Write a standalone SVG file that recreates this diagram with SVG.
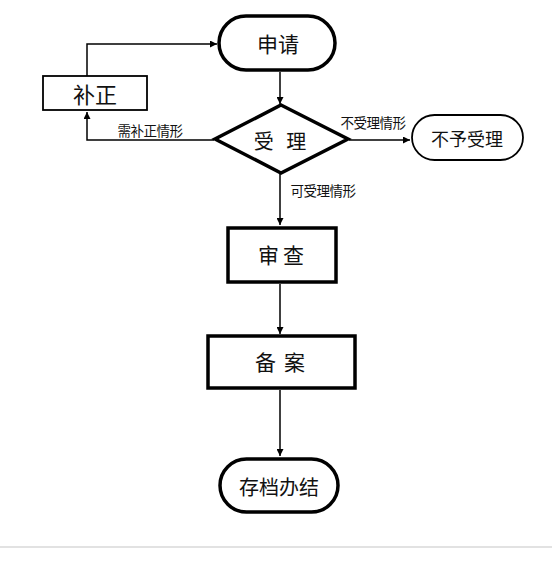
<svg xmlns="http://www.w3.org/2000/svg" width="554" height="564" viewBox="0 0 554 564">
<defs>
<marker id="ah" viewBox="0 0 10 10" refX="10" refY="5" markerWidth="7" markerHeight="7" markerUnits="userSpaceOnUse" orient="auto">
<path d="M0,0 L10,5 L0,10 z" fill="#000"/>
</marker>
</defs>
<style>
.t{font-family:"Noto Sans CJK SC","Noto Sans CJK JP",sans-serif;fill:#111;text-anchor:middle;dominant-baseline:central}
.big{font-size:21px}
.lbl{font-size:13.5px;letter-spacing:-0.5px}
.thick{fill:#fff;stroke:#000;stroke-width:3.5}
.thin{fill:#fff;stroke:#000;stroke-width:1.8}
.c{fill:none;stroke:#000;stroke-width:1.5;marker-end:url(#ah)}
</style>
<rect x="0" y="0" width="554" height="564" fill="#fff"/>
<line x1="0" y1="547" x2="552" y2="547" stroke="#d8d8d8" stroke-width="1.5"/>
<g id="connectors">
<path class="c" d="M87,76 L87,44 L217,44"/>
<path class="c" d="M280,72 L280,104"/>
<path class="c" d="M214,140 L87,140 L87,112"/>
<path class="c" d="M349,140 L410,140"/>
<path class="c" d="M280,174 L280,225"/>
<path class="c" d="M280,284 L280,334"/>
<path class="c" d="M280,390 L280,456"/>
</g>
<g id="shenqing">
<rect class="thick" x="219" y="16" width="116" height="54" rx="27"/>
<text class="t big" x="278" y="43">申请</text>
</g>
<g id="buzheng">
<rect class="thin" x="43" y="76" width="104" height="34"/>
<text class="t big" x="95" y="93" style="font-size:22px">补正</text>
</g>
<g id="shouli">
<polygon class="thick" points="281,105 348,139 281,173 215,139"/>
<text class="t big" x="282" y="140" style="font-size:20px;letter-spacing:4px">受 理</text>
</g>
<g id="buyushouli">
<rect class="thin" x="412" y="115" width="111" height="45" rx="22.5"/>
<text class="t big" x="467" y="138" style="font-size:18px">不予受理</text>
</g>
<g id="shencha">
<rect class="thick" x="228" y="228" width="108" height="54"/>
<text class="t big" x="283" y="254" style="letter-spacing:4px">审查</text>
</g>
<g id="beian">
<rect class="thick" x="208" y="336" width="147" height="52"/>
<text class="t big" x="284" y="361" style="letter-spacing:8px">备案</text>
</g>
<g id="cundang">
<rect class="thick" x="220" y="459" width="118" height="53" rx="26.5"/>
<text class="t big" x="279" y="486" style="font-size:20px">存档办结</text>
</g>
<g id="labels">
<text class="t lbl" x="150" y="130">需补正情形</text>
<text class="t lbl" x="373" y="122">不受理情形</text>
<text class="t lbl" x="323" y="190">可受理情形</text>
</g>
</svg>
